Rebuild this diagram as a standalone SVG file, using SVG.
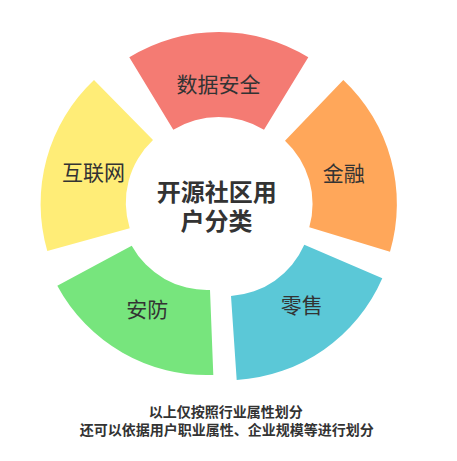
<svg xmlns="http://www.w3.org/2000/svg" width="457" height="461" viewBox="0 0 457 461">
<style>
.lbl{font-family:"Noto Sans CJK SC","Noto Sans",sans-serif;font-size:21px;fill:#333;text-anchor:middle}
.ctr{font-family:"Noto Sans CJK SC","Noto Sans",sans-serif;font-size:24px;font-weight:bold;fill:#333;text-anchor:middle}
.note{font-family:"Noto Sans CJK SC","Noto Sans",sans-serif;font-size:14px;font-weight:bold;fill:#333;text-anchor:middle}
</style>
<rect width="457" height="461" fill="#fff"/>
<g id="seg-data-security">
<path d="M129.3,57.3 A171,171 0 0 1 308.3,57.3 L264,129.7 A87,87 0 0 0 173.3,129.7 Z" fill="#F47B73"/>
<text class="lbl" x="218.5" y="92">数据安全</text>
</g>
<g id="seg-finance">
<path d="M343.3,80 A170,170 0 0 1 390,251.7 L309.3,227.3 A86,86 0 0 0 285,140.7 Z" fill="#FFA75A"/>
<text class="lbl" x="343.7" y="181">金融</text>
</g>
<g id="seg-retail">
<path d="M382.3,278.3 A170,170 0 0 1 236.7,380 L231,296 A86,86 0 0 0 304.3,244.7 Z" fill="#5BC8D7"/>
<text class="lbl" x="301.7" y="312.5">零售</text>
</g>
<g id="seg-security">
<path d="M213.3,375 A170,170 0 0 1 57.3,285.7 L131.7,245.7 A86,86 0 0 0 210,290 Z" fill="#77E57D"/>
<text class="lbl" x="147.3" y="317">安防</text>
</g>
<g id="seg-internet">
<path d="M47.3,251 A170,170 0 0 1 94,80 L153,140 A86,86 0 0 0 129.7,228.3 Z" fill="#FFED77"/>
<text class="lbl" x="93.5" y="180">互联网</text>
</g>
<g id="center-title">
<text class="ctr" x="216.7" y="200.5">开源社区用</text>
<text class="ctr" x="216.5" y="229.5">户分类</text>
</g>
<g id="footnote">
<text class="note" x="225.8" y="417">以上仅按照行业属性划分</text>
<text class="note" x="226.7" y="435.3">还可以依据用户职业属性、企业规模等进行划分</text>
</g>
</svg>
